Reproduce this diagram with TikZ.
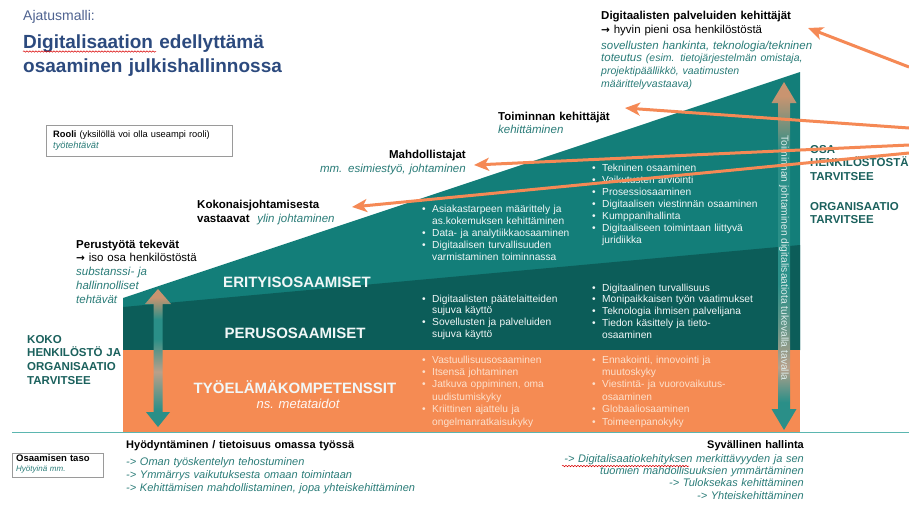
\documentclass[tikz,border=0pt]{standalone}
\usepackage{fontspec}
\setmainfont{Liberation Sans}
\newfontfamily\arrfont{DejaVu Sans}
\usetikzlibrary{arrows.meta,decorations.pathmorphing}
\definecolor{tealA}{HTML}{137E79}
\definecolor{tealB}{HTML}{0C5D59}
\definecolor{orgA}{HTML}{F58B53}
\definecolor{tealtxt}{HTML}{2A7C78}
\definecolor{labteal}{HTML}{1B615D}
\definecolor{titleblue}{HTML}{2C4A7E}
\definecolor{ajablue}{HTML}{4F6390}
\definecolor{arrorg}{HTML}{F58955}
\definecolor{lineteal}{HTML}{5BB6B0}
\definecolor{peach}{HTML}{FDE0CC}
\definecolor{tanA}{HTML}{C99470}
\definecolor{tanB}{HTML}{B9A08A}
\definecolor{tealC}{HTML}{2A8F88}
\definecolor{boxgray}{HTML}{9A9A9A}
\newcommand\myfs[2]{\fontsize{#1}{#2}\selectfont}
\newcommand\tealit[1]{{\color{tealtxt}\itshape #1}}
\newcommand\bul{\makebox[10pt][l]{•}}
\newcommand\ind{\hspace*{10pt}}
\newcommand\rarr{{\arrfont\bfseries\myfs{10.5}{12}→}}
\pgfdeclareverticalshading{rarrowshade}{100bp}{color(0bp)=(tealC); color(25bp)=(tealC); color(29bp)=(tealC); color(34bp)=(tanB); color(40bp)=(tealC!60!tanB); color(46bp)=(tealC); color(65bp)=(tealC); color(73bp)=(tanA); color(100bp)=(tanA)}
\pgfdeclareverticalshading{larrowshade}{100bp}{color(0bp)=(tealC); color(25bp)=(tealC); color(31bp)=(tealC); color(45bp)=(tanB); color(57bp)=(tealC); color(64bp)=(tealC); color(72bp)=(tanA); color(100bp)=(tanA)}
\begin{document}
\begin{tikzpicture}[x=1pt,y=-1pt,
  blk/.style={inner sep=0pt, anchor=base west, align=left, text width=#1},
  blk/.default=320pt,
  blkr/.style={inner sep=0pt, anchor=base east, align=right, text width=#1},
  blkr/.default=320pt,
  band/.style={inner sep=0pt, anchor=base, text=white!94!tealA, font=\myfs{15}{18}\bfseries},
  wbul/.style={blk=170pt, text=white!94!tealA},
  obul/.style={blk=170pt, text=peach},
  uplab/.style={blk=120pt, text=labteal, font=\myfs{11.5}{13.8}\bfseries},
  pointer/.style={draw=arrorg, line width=3pt, -{Stealth[length=15pt,width=13pt,inset=4pt]}},
  spell/.style={draw=red!85!black, line width=0.5pt, decorate, decoration={snake, amplitude=0.7pt, segment length=3pt}}
]
\useasboundingbox (0,0) rectangle (909,507);
\fill[white] (0,0) rectangle (909,507);

% main bands
\fill[tealA] (123,298) -- (800,72) -- (800,350) -- (123,350) -- cycle;
\fill[tealB] (123,307) -- (800,245) -- (800,350) -- (123,350) -- cycle;
\fill[orgA] (123,350) rectangle (800,432);
\draw[lineteal, line width=1pt] (12,432) -- (909,432);

% vertical double arrows
\shade[shading=rarrowshade] (784,82) -- (796.5,103) -- (790,103) -- (790,409) -- (796.5,409) -- (784,430) -- (771.5,409) -- (778,409) -- (778,103) -- (771.5,103) -- cycle;
\shade[shading=larrowshade] (158,289) -- (171,304) -- (162.5,304) -- (162.5,412) -- (170,412) -- (158,427) -- (146,412) -- (153.5,412) -- (153.5,304) -- (145,304) -- cycle;
\node[rotate=-90, inner sep=0pt, font=\myfs{10.3}{12}, text=white!85!tealA] (vtext) at (784,258) {Toiminnan johtaminen digitalisaatiota tukevalla tavalla};

% title
\node[blk, font=\myfs{14}{16}, text=ajablue] (aja) at (23,20) {Ajatusmalli:};
\node[blk, font=\myfs{19}{24}\bfseries, text=titleblue] (title) at (23,48) {Digitalisaation edellyttämä\\osaaminen julkishallinnossa};
\draw[spell] (23,51.5) -- (156,51.5);

% role box
\node[draw=boxgray, line width=0.8pt, minimum width=186pt, minimum height=31pt, inner sep=0pt, anchor=north west] (roolibox) at (46,125) {};
\node[blk, font=\myfs{9.3}{11}] (rooli) at (53,137) {\textbf{Rooli} (yksilöllä voi olla useampi rooli)\\\tealit{työtehtävät}};

% roles
\node[blk, font=\myfs{11.5}{14}] (devs) at (601,19) {\textbf{Digitaalisten palveluiden kehittäjät}\\\rarr\ hyvin pieni osa henkilöstöstä};
\node[blk, font=\myfs{11.5}{12.7}] (devsb) at (601,49) {\tealit{sovellusten hankinta, teknologia/tekninen}\\\tealit{toteutus {\myfs{10.5}{12.7}(esim. tietojärjestelmän omistaja,}}\\\tealit{\myfs{10.5}{12.7}projektipäällikkö, vaatimusten}\\\tealit{\myfs{10.5}{12.7}määrittelyvastaava)}};
\node[blk, font=\myfs{11.5}{13.5}] (toim) at (498,120) {\textbf{Toiminnan kehittäjät}\\\tealit{kehittäminen}};
\node[blkr, font=\myfs{11.5}{14}] (mahd) at (466,158) {\textbf{Mahdollistajat}\\\tealit{mm. esimiestyö, johtaminen}};
\node[blk, font=\myfs{11.5}{14}] (koko) at (197,208) {\textbf{Kokonaisjohtamisesta}\\\textbf{vastaavat}\ \ \tealit{ylin johtaminen}};
\node[blk, font=\myfs{11.5}{13.75}] (perus) at (76,248) {\textbf{Perustyötä tekevät}\\\rarr\ iso osa henkilöstöstä\\\tealit{substanssi- ja}\\\tealit{hallinnolliset}\\\tealit{tehtävät}};

% upper-case labels
\node[uplab] (osa) at (810,153) {OSA\\HENKILÖSTÖSTÄ\\TARVITSEE};
\node[uplab] (org) at (810,210) {ORGANISAATIO\\TARVITSEE};
\node[uplab] (kokoh) at (27,343) {KOKO\\HENKILÖSTÖ JA\\ORGANISAATIO\\TARVITSEE};

% band labels
\node[band] (eri) at (297,287) {ERITYISOSAAMISET};
\node[band] (peru) at (295,338) {PERUSOSAAMISET};
\node[band] (tyo) at (295,393) {TYÖELÄMÄKOMPETENSSIT};
\node[inner sep=0pt, anchor=base, text=white!94!orgA, font=\myfs{13}{15}\itshape] (meta) at (298,408) {ns. metataidot};

% bullets: special skills
\node[wbul, font=\myfs{10.2}{12}] (e1) at (422,212) {\bul Asiakastarpeen määrittely ja\\\ind as.kokemuksen kehittäminen\\\bul Data- ja analytiikkaosaaminen\\\bul Digitaalisen turvallisuuden\\\ind varmistaminen toiminnassa};
\node[wbul, font=\myfs{10.2}{12}] (e2) at (592,171) {\bul Tekninen osaaminen\\\bul Vaikutusten arviointi\\\bul Prosessiosaaminen\\\bul Digitaalisen viestinnän osaaminen\\\bul Kumppanihallinta\\\bul Digitaaliseen toimintaan liittyvä\\\ind juridiikka};
% bullets: basic skills
\node[wbul, font=\myfs{10.2}{11.7}] (p1) at (422,302) {\bul Digitaalisten päätelaitteiden\\\ind sujuva käyttö\\\bul Sovellusten ja palveluiden\\\ind sujuva käyttö};
\node[wbul, font=\myfs{10.2}{11.75}] (p2) at (592,291) {\bul Digitaalinen turvallisuus\\\bul Monipaikkaisen työn vaatimukset\\\bul Teknologia ihmisen palvelijana\\\bul Tiedon käsittely ja tieto-\\\ind osaaminen};
% bullets: working-life competences
\node[obul, font=\myfs{10.2}{12.4}] (t1) at (422,363) {\bul Vastuullisuusosaaminen\\\bul Itsensä johtaminen\\\bul Jatkuva oppiminen, oma\\\ind uudistumiskyky\\\bul Kriittinen ajattelu ja\\\ind ongelmanratkaisukyky};
\node[obul, font=\myfs{10.2}{12.4}] (t2) at (592,363) {\bul Ennakointi, innovointi ja\\\ind muutoskyky\\\bul Viestintä- ja vuorovaikutus-\\\ind osaaminen\\\bul Globaaliosaaminen\\\bul Toimeenpanokyky};

% bottom
\node[draw=boxgray, line width=0.8pt, minimum width=91pt, minimum height=24pt, inner sep=0pt, anchor=north west] (tasobox) at (12,453) {};
\node[blk, font=\myfs{9.5}{11}\bfseries] (taso) at (16,461) {Osaamisen taso};
\node[blk, font=\myfs{8}{10}] (hyoty) at (16,471) {\tealit{Hyötyinä mm.}};
\node[blk, font=\myfs{11}{13}\bfseries] (hyod) at (126,448) {Hyödyntäminen / tietoisuus omassa työssä};
\node[blk, font=\myfs{11}{13}] (hyodb) at (126,465) {\tealit{-> Oman työskentelyn tehostuminen}\\\tealit{-> Ymmärrys vaikutuksesta omaan toimintaan}\\\tealit{-> Kehittämisen mahdollistaminen, jopa yhteiskehittäminen}};
\node[blkr, font=\myfs{11}{13}\bfseries] (syv) at (804,448) {Syvällinen hallinta};
\node[blkr, font=\myfs{11}{12.4}] (syvb) at (804,462) {\tealit{-> Digitalisaatiokehityksen merkittävyyden ja sen}\\\tealit{tuomien mahdollisuuksien ymmärtäminen}\\\tealit{-> Tuloksekas kehittäminen}\\\tealit{-> Yhteiskehittäminen}};
\draw[spell] (562,466) -- (689,466);

% orange pointers
\coordinate (a1s) at (909,67);  \coordinate (a1t) at (808,28);
\coordinate (a2s) at (909,128); \coordinate (a2t) at (625,108);
\coordinate (a3s) at (909,145); \coordinate (a3t) at (474,165);
\coordinate (a4s) at (909,153); \coordinate (a4t) at (352,207);
\draw[pointer] (a1s) -- (a1t);
\draw[pointer] (a2s) -- (a2t);
\draw[pointer] (a3s) -- (a3t);
\draw[pointer] (a4s) -- (a4t);
\end{tikzpicture}
\end{document}
